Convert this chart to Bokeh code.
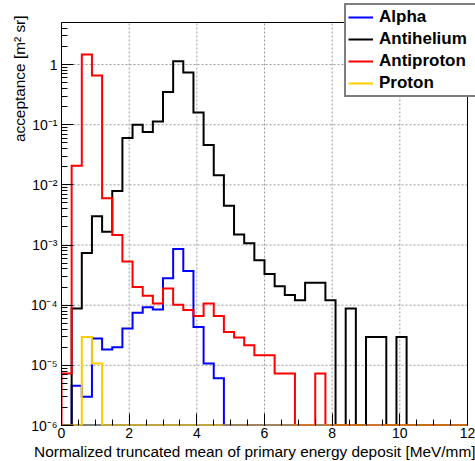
import numpy as np
from math import log10
from bokeh.plotting import figure
from bokeh.models import (Range1d, FixedTicker, CustomJSTickFormatter, Legend,
                          LegendItem, Title)
from bokeh.embed import file_html
from bokeh.resources import INLINE

# ---- data (40 bins of 0.3 MeV/mm from 0 to 12) ----
x_min, x_max, n_bins = 0.0, 12.0, 40
y_min, y_max = 1e-6, 5.0

alpha = [0, 4.6e-6, 3.0e-6, 2.8e-5, 1.83e-5, 2.0e-5, 4.1e-5, 7.45e-5, 9.2e-5, 8.5e-5,
         2.8e-4, 8.6e-4, 3.7e-4, 4.35e-5, 1.07e-5, 6.1e-6, 0, 0, 0, 0,
         0, 0, 0, 0, 0, 0, 0, 0, 0, 0,
         0, 0, 0, 0, 0, 0, 0, 0, 0, 0]
antihelium = [0, 8.8e-5, 7.4e-4, 3.0e-3, 1.67e-3, 7.9e-3, 0.06, 0.1, 0.0755, 0.113,
              0.35, 1.13, 0.74, 0.16, 0.046, 0.0145, 4.5e-3, 1.5e-3, 1.07e-3, 5.6e-4,
              3.3e-4, 2.07e-4, 1.47e-4, 1.21e-4, 2.35e-4, 2.35e-4, 1.21e-4, 0, 8.8e-5, 0,
              2.96e-5, 2.96e-5, 0, 2.96e-5, 0, 0, 0, 0, 0, 0]
antiproton = [7.3e-6, 0.0207, 1.47, 0.656, 6.0e-3, 1.47e-3, 5.3e-4, 2.0e-4, 1.43e-4, 1.07e-4,
              1.9e-4, 1.02e-4, 8.3e-5, 6.6e-5, 1.07e-4, 6.6e-5, 3.6e-5, 2.9e-5, 2.15e-5, 1.47e-5,
              1.47e-5, 7.3e-6, 7.3e-6, 0, 0, 7.3e-6, 0, 0, 0, 0,
              0, 0, 0, 0, 0, 0, 0, 0, 0, 0]
proton = [0, 0, 2.96e-5, 1.07e-5, 0, 0, 0, 0, 0, 0,
          0, 0, 0, 0, 0, 0, 0, 0, 0, 0,
          0, 0, 0, 0, 0, 0, 0, 0, 0, 0,
          0, 0, 0, 0, 0, 0, 0, 0, 0, 0]

series_names = ["Alpha", "Antihelium", "Antiproton", "Proton"]
series_values = [alpha, antihelium, antiproton, proton]
series_colors = ["#0000ff", "#000000", "#ff0000", "#ffcc00"]

x_major = [0, 2, 4, 6, 8, 10, 12]
y_major_exp = [-6, -5, -4, -3, -2, -1, 0]

x_title = "Normalized truncated mean of primary energy deposit [MeV/mm]"
y_title = "acceptance [m\u00b2 sr]"

# ---- layout (pixels) ----
W, H = 475, 461
border_left, border_bottom = 61, 36
vis_top, vis_right = 22, 8          # visible frame inset from the canvas top / right
frame_w = W - border_left
frame_h = H - border_bottom
vis_w = frame_w - vis_right
vis_h = frame_h - vis_top

x_end = x_max + vis_right * (x_max - x_min) / vis_w
dec_per_px = (log10(y_max) - log10(y_min)) / vis_h
y_end = 10 ** (log10(y_max) + vis_top * dec_per_px)

edges = np.linspace(x_min, x_max, n_bins + 1)


def stairs(vals):
    v = np.maximum(np.asarray(vals, dtype=float), y_min)
    xs = [edges[0]]
    ys = [y_min]
    for i, val in enumerate(v):
        xs += [edges[i], edges[i + 1]]
        ys += [val, val]
    xs.append(edges[-1])
    ys.append(y_min)
    return xs, ys


p = figure(width=W, height=H, x_range=Range1d(x_min, x_end),
           y_range=Range1d(y_min, y_end), y_axis_type="log",
           output_backend="svg", toolbar_location=None)
p.min_border_left = border_left
p.min_border_right = 0
p.min_border_top = 0
p.min_border_bottom = border_bottom
p.background_fill_color = "white"
p.border_fill_color = "white"
p.outline_line_color = None
p.xgrid.visible = False
p.ygrid.visible = False

FONT = "Liberation Sans"

# axes
p.xaxis.ticker = FixedTicker(ticks=x_major,
                             minor_ticks=list(np.arange(x_min, x_max + 0.01, 0.5)))
p.yaxis.ticker = FixedTicker(ticks=[10.0 ** e for e in y_major_exp],
                             minor_ticks=[m * 10.0 ** e for e in y_major_exp for m in range(2, 10)
                                          if m * 10.0 ** e <= y_max])
p.yaxis.formatter = CustomJSTickFormatter(code="""
const e = Math.round(Math.log10(tick));
if (e == 0) { return "1"; }
const sup = {"-":"\u207b","0":"\u2070","1":"\u00b9","2":"\u00b2","3":"\u00b3","4":"\u2074","5":"\u2075","6":"\u2076","7":"\u2077","8":"\u2078","9":"\u2079"};
return "10" + String(e).split("").map(c => sup[c]).join("");
""")
p.xaxis.bounds = (x_min, x_max)
p.yaxis.bounds = (y_min, y_max)
for ax in (p.xaxis, p.yaxis):
    ax.major_tick_in = 12
    ax.major_tick_out = 0
    ax.minor_tick_in = 6
    ax.minor_tick_out = 0
    ax.major_tick_line_color = "black"
    ax.minor_tick_line_color = "black"
    ax.axis_line_color = "black"
    ax.major_label_text_font = FONT
    ax.major_label_text_font_size = "14px"
    ax.major_label_text_color = "black"
p.xaxis.axis_line_color = None
p.xaxis.major_label_standoff = 2
p.yaxis.major_label_standoff = 4

# axis titles, right-aligned at the axis end as ROOT does
xt = Title(text=x_title, align="right", offset=0, standoff=0,
           text_font=FONT, text_font_size="15.4px", text_font_style="normal",
           text_color="black")
yt = Title(text=y_title, align="right", offset=15, standoff=0,
           text_font=FONT, text_font_size="15.4px", text_font_style="normal",
           text_color="black")
p.add_layout(xt, "below")
p.add_layout(yt, "left")

# frame bottom edge (under the histograms, like ROOT)
p.line([x_min, x_max], [y_min, y_min], line_color="black", line_width=2)

# grid (dotted, inside the visible frame only)
gx = x_major[1:-1]
p.segment(x0=gx, y0=[y_min] * len(gx), x1=gx, y1=[y_max] * len(gx),
          line_color="#999999", line_dash="2 2", line_width=1)
gy = [10.0 ** e for e in y_major_exp[1:]]
p.segment(x0=[x_min] * len(gy), y0=gy, x1=[x_max] * len(gy), y1=gy,
          line_color="#999999", line_dash="2 2", line_width=1)

# histograms
renderers = []
for name, vals, col in zip(series_names, series_values, series_colors):
    xs, ys = stairs(vals)
    r = p.line(xs, ys, line_color=col, line_width=2, line_join="miter")
    renderers.append(r)

# top and right edges of the frame
p.line([x_min, x_max, x_max], [y_max, y_max, y_min], line_color="black", line_width=1)

legend = Legend(items=[LegendItem(label=n, renderers=[r]) for n, r in zip(series_names, renderers)],
                location=(283, 328))
legend.label_text_font = FONT
legend.label_text_font_style = "bold"
legend.label_text_font_size = "17px"
legend.label_text_color = "black"
legend.glyph_width = 25
legend.glyph_height = 20
legend.label_height = 20
legend.label_width = 94
legend.label_standoff = 6
legend.spacing = 2
legend.padding = 2
legend.margin = 0
legend.border_line_color = "black"
legend.border_line_width = 2
legend.background_fill_color = "white"
legend.background_fill_alpha = 1.0
p.add_layout(legend)

open("out.html", "w").write(file_html(p, INLINE))
